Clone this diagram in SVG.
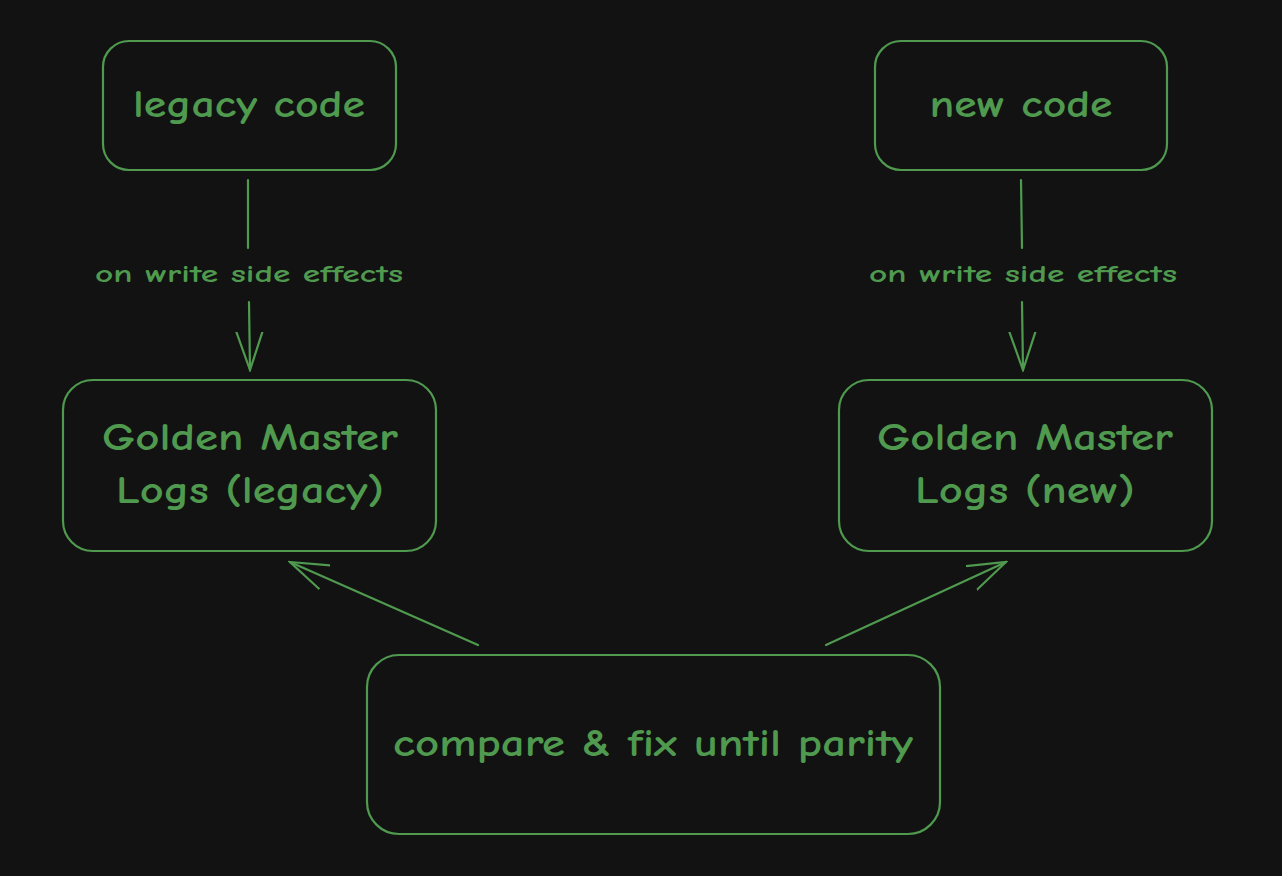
<svg xmlns="http://www.w3.org/2000/svg" width="1282" height="876" viewBox="0 0 1282 876">
<style>
.n{fill:none;stroke:#4f9a4f;stroke-width:2.2}
.t{fill:#4f9a4f;font-family:"Comic Neue","Lato","Liberation Sans",sans-serif;font-size:38px;font-weight:bold;text-anchor:middle}
.l{fill:#4f9a4f;font-family:"Comic Neue","Lato","Liberation Sans",sans-serif;font-size:25px;font-weight:bold;text-anchor:middle}
.c{fill:none;stroke:#4f9a4f;stroke-width:2.2;stroke-linecap:round}
</style>
<defs>
<marker id="b" viewBox="0 0 40 40" refX="38" refY="20" markerWidth="40" markerHeight="40" markerUnits="userSpaceOnUse" orient="auto"><path d="M0,7 L38,20 L0,33" fill="none" stroke="#4f9a4f" stroke-width="2.2" stroke-linecap="round"/></marker></defs>
<rect width="1282" height="876" fill="#121212"/>
<g id="legacy"><rect class="n" x="103" y="41" width="293" height="129" rx="26"/><text class="t" x="249" y="117" textLength="232" lengthAdjust="spacingAndGlyphs">legacy code</text></g>
<g id="new"><rect class="n" x="875" y="41" width="292" height="129" rx="26"/><text class="t" x="1021" y="117" textLength="183" lengthAdjust="spacingAndGlyphs">new code</text></g>
<g id="gml"><rect class="n" x="63" y="380" width="373" height="171" rx="30"/><text class="t" x="250" y="450" textLength="296" lengthAdjust="spacingAndGlyphs">Golden Master</text><text class="t" x="250" y="503" textLength="268" lengthAdjust="spacingAndGlyphs">Logs (legacy)</text></g>
<g id="gmn"><rect class="n" x="839" y="380" width="373" height="171" rx="30"/><text class="t" x="1025" y="450" textLength="296" lengthAdjust="spacingAndGlyphs">Golden Master</text><text class="t" x="1025" y="503" textLength="220" lengthAdjust="spacingAndGlyphs">Logs (new)</text></g>
<g id="cmp"><rect class="n" x="367" y="655" width="573" height="179" rx="32"/><text class="t" x="653" y="756" textLength="520" lengthAdjust="spacingAndGlyphs">compare &amp; fix until parity</text></g>
<g id="connectors">
<path class="c" d="M248,180 L248,248"/><path class="c" d="M249,302 L250,370" marker-end="url(#b)"/>
<text class="l" x="249" y="282" textLength="308" lengthAdjust="spacingAndGlyphs">on write side effects</text>
<path class="c" d="M1021,180 L1022,248"/><path class="c" d="M1022,302 L1023,370" marker-end="url(#b)"/>
<text class="l" x="1023" y="282" textLength="308" lengthAdjust="spacingAndGlyphs">on write side effects</text>
<path class="c" d="M478,645 L290,562" marker-end="url(#b)"/>
<path class="c" d="M826,645 L1006,562" marker-end="url(#b)"/>
</g>
</svg>
